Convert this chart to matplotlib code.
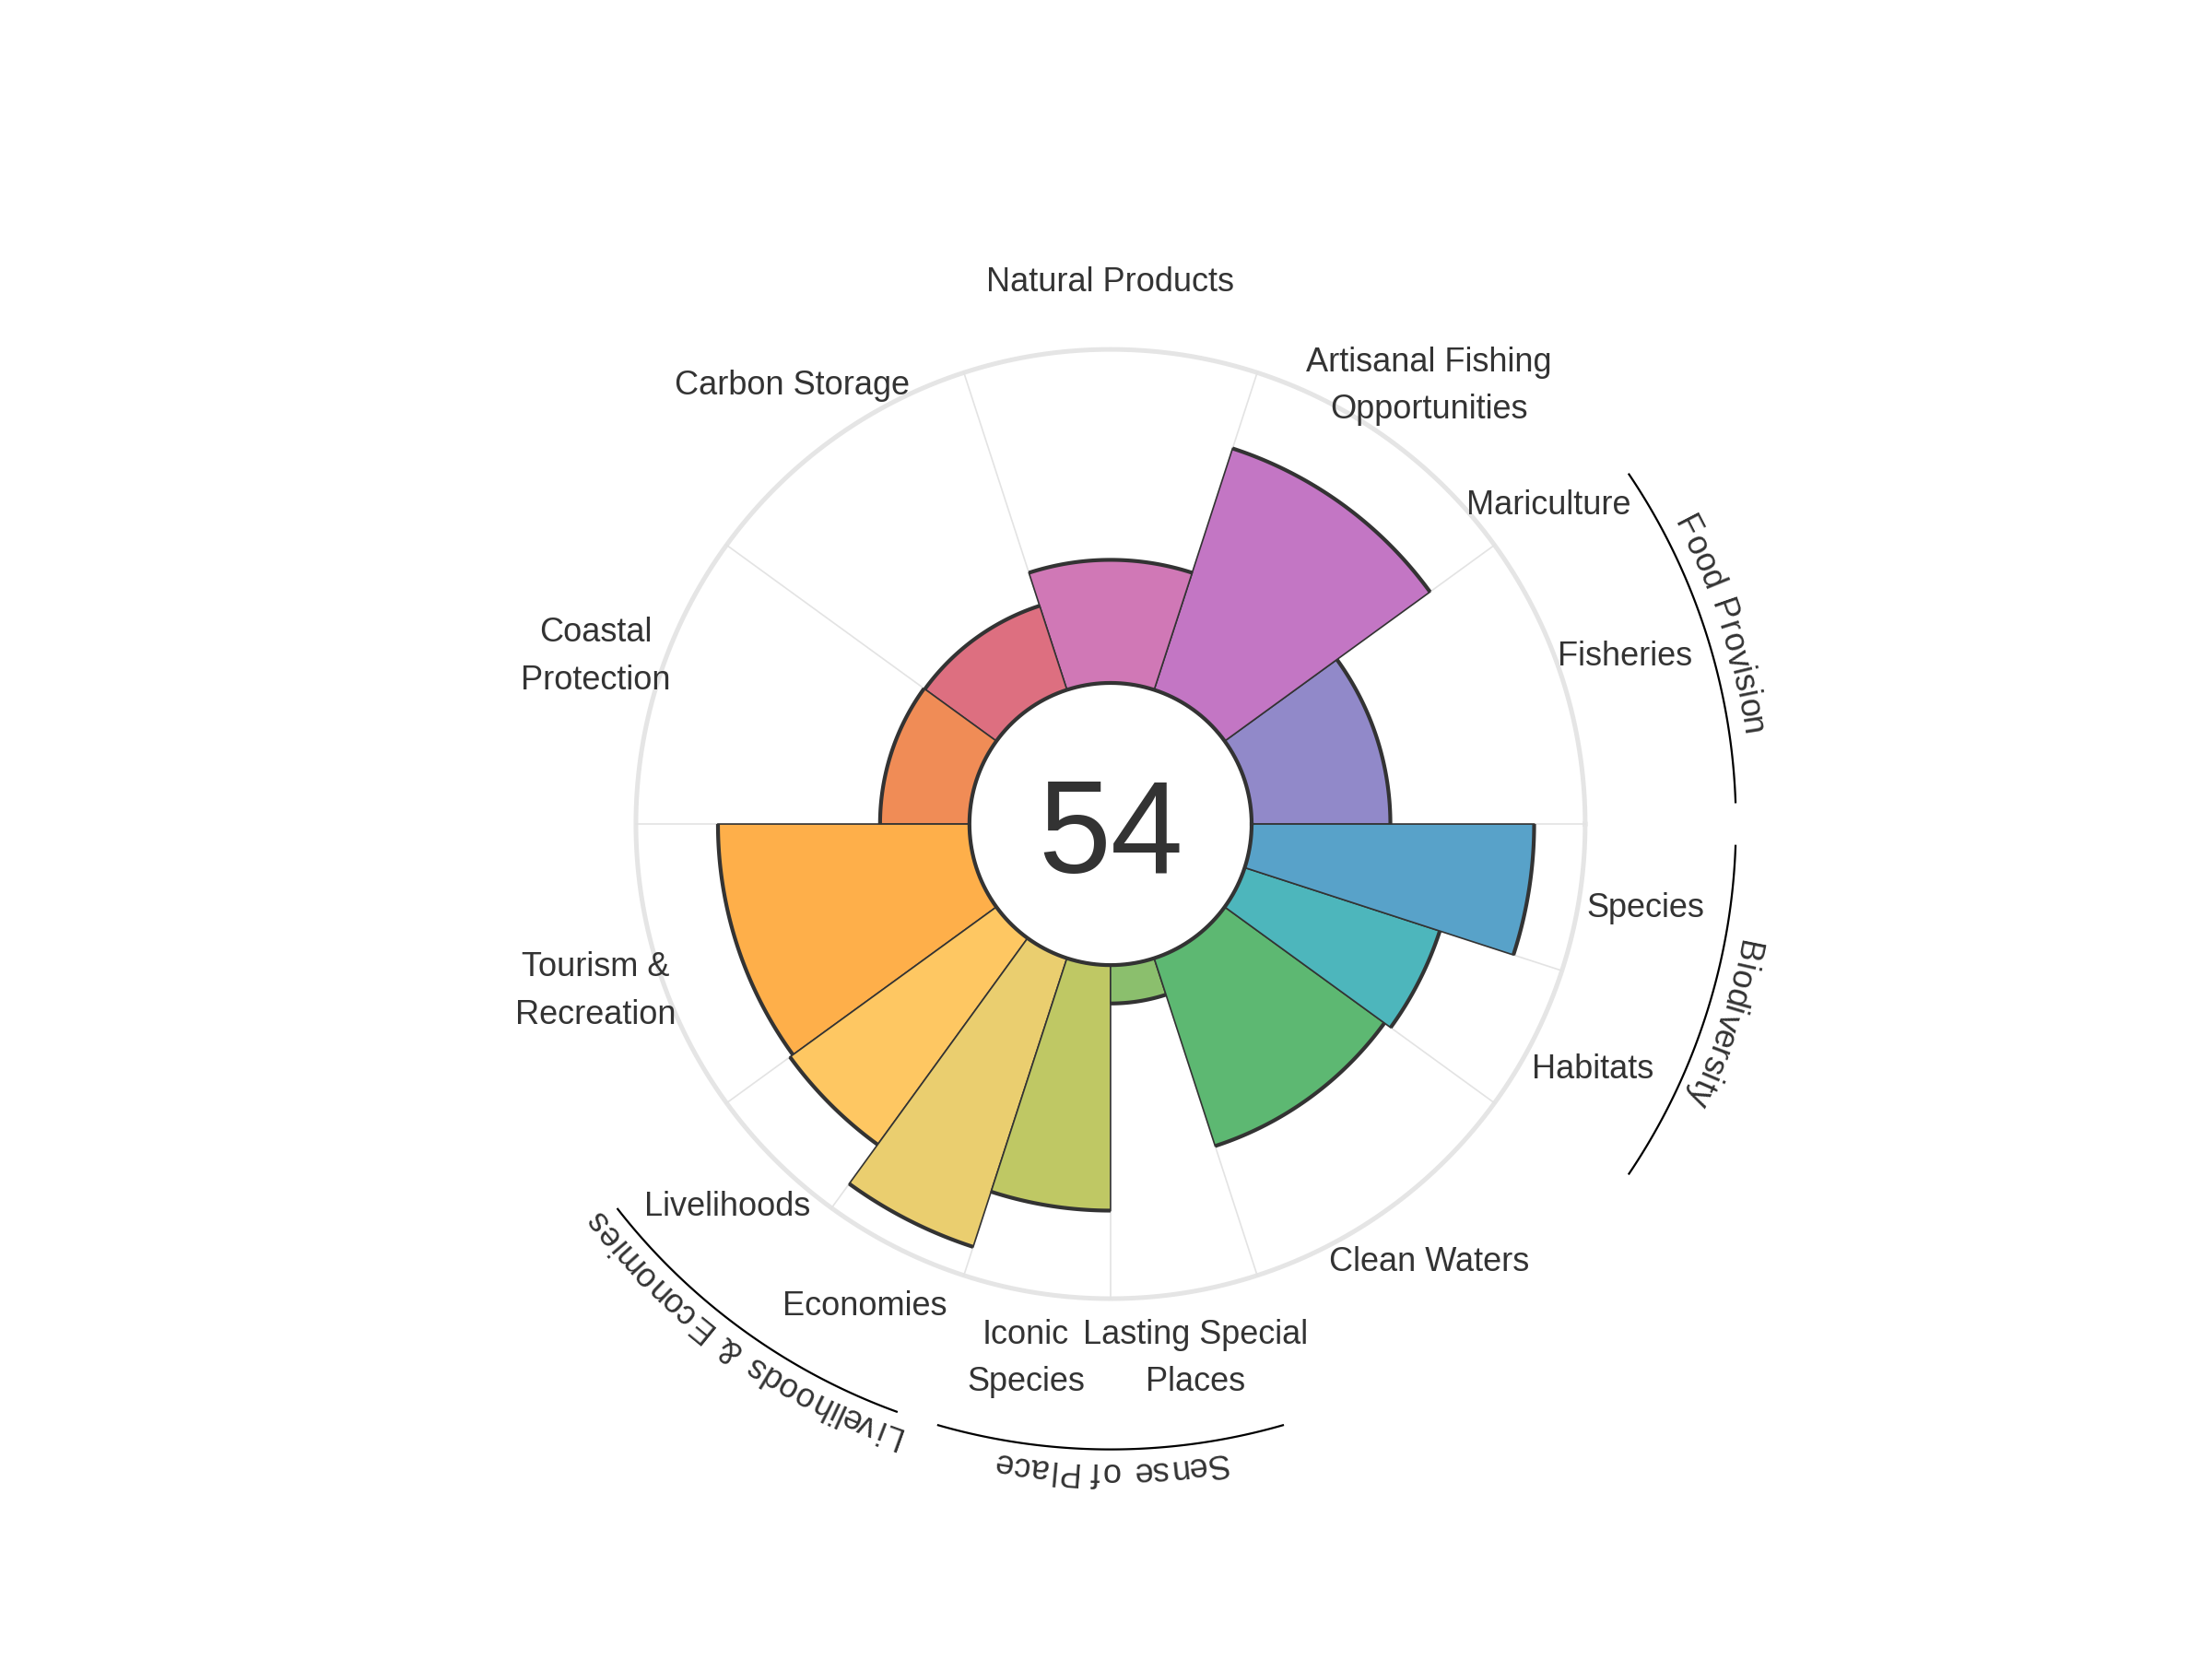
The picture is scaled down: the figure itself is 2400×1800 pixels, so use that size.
import numpy as np
import matplotlib
matplotlib.use("Agg")
import matplotlib.pyplot as plt
from matplotlib.font_manager import FontProperties

# ---------------- data ----------------
goals = ["Fisheries", "Mariculture", "Artisanal Fishing\nOpportunities",
         "Natural Products", "Carbon Storage", "Coastal\nProtection",
         "Tourism &\nRecreation", "Livelihoods", "Economies",
         "Iconic\nSpecies", "Lasting Special\nPlaces", "Clean Waters",
         "Habitats", "Species"]
scores = [41.6, 0.0, 76.1, 36.9, 26.5, 26.8, 75.4, 76.5, 91.0, 73.6,
          11.5, 59.2, 61.5, 84.7]
weights = [1, 0, 1, 1, 1, 1, 1, 0.5, 0.5, 0.5, 0.5, 1, 0.5, 0.5]
colors = ["#9189C9", "#A77DC8", "#C376C4", "#D078B6", "#DD6F80", "#F08C56",
          "#FEAF4A", "#FEC762", "#EACE6F", "#BFC864", "#8BBF6D", "#5DB872",
          "#4DB6BC", "#58A2C9"]
goal_groups = ["Food Provision", "Food Provision", None, None, None, None,
               None, "Livelihoods & Economies", "Livelihoods & Economies",
               "Sense of Place", "Sense of Place", None,
               "Biodiversity", "Biodiversity"]
group_names = ["Food Provision", "Biodiversity", "Sense of Place",
               "Livelihoods & Economies"]
overall = 54

# ---------------- style / geometry ----------------
FAM = ["Liberation Sans", "DejaVu Sans"]
TXT = "#333333"
HOLE = 42.3          # radius of the central hole (score units)
RMAX = 210
LABEL_R = HOLE + 120
GROUP_ARC_R = 187.5
GROUP_TXT_R = 191.6
FS = 13
DPI = 200

plt.rcParams["font.family"] = FAM
fig = plt.figure(figsize=(12, 9), dpi=DPI)
fig.patch.set_facecolor("white")
ax_w, ax_h = 0.6333, 0.8444
ax = fig.add_axes([0.1854, 0.0811, ax_w, ax_h], projection="polar")
ax.set_ylim(0, RMAX)
ax.axis("off")
px_per_unit = ax_w * 12 * DPI / 2 / RMAX

rad = np.deg2rad
w_arr = np.array(weights, dtype=float)
deg_per_w = 360.0 / w_arr.sum()
starts = np.concatenate([[0], np.cumsum(w_arr)[:-1]]) * deg_per_w
widths = w_arr * deg_per_w
mids = starts + widths / 2

# outer reference circle
th_full = np.linspace(0, 2 * np.pi, 721)
ax.plot(th_full, np.full_like(th_full, HOLE + 100), color="#E5E5E5",
        lw=1.8, zorder=0, clip_on=False)
# radial grid lines at petal boundaries
bounds = np.unique(np.round(np.concatenate([starts, starts + widths]) % 360, 6))
for b in bounds:
    ax.plot([rad(b), rad(b)], [HOLE, HOLE + 100], color="#E3E3E3", lw=0.6,
            zorder=0, clip_on=False)

# petals
for i in range(len(goals)):
    if widths[i] <= 0:
        continue
    ax.bar(rad(starts[i]), scores[i], width=rad(widths[i]), bottom=HOLE,
           align="edge", color=colors[i], edgecolor=TXT, linewidth=0.6,
           zorder=2)
    th = np.linspace(rad(starts[i]), rad(starts[i] + widths[i]), 80)
    ax.plot(th, np.full_like(th, HOLE + scores[i]), color=TXT, lw=1.5,
            zorder=3, solid_capstyle="butt", clip_on=False)

# hole outline
ax.plot(th_full, np.full_like(th_full, HOLE), color=TXT, lw=1.5, zorder=4)
# overall score, baseline placed slightly below the centre
ax.text(rad(270), 14.6, str(overall), ha="center", va="baseline",
        fontsize=51, color=TXT, zorder=5)

# goal labels
for i, g in enumerate(goals):
    ax.text(rad(mids[i]), LABEL_R, g, ha="center", va="center", fontsize=FS,
            color=TXT, linespacing=1.6, multialignment="center",
            clip_on=False)

# curved group labels
renderer = fig.canvas.get_renderer()
prop = FontProperties(family="Liberation Sans", size=FS)


def text_w(s):
    return renderer.get_text_width_height_descent(s, prop, ismath=False)[0]


base_w = text_w("nn")


def advance(ch):
    a = text_w("n" + ch + "n") - base_w
    if ch == " ":
        a *= 1.45
    return a


def curved_text(text, center_deg, r):
    advs = [advance(c) for c in text]
    total = sum(advs)
    rpx = r * px_per_unit
    pos = 0.0
    for c, a in zip(text, advs):
        cpos = pos + a / 2 - total / 2
        pos += a
        if c == " ":
            continue
        ang = center_deg - np.rad2deg(cpos / rpx)
        ax.text(rad(ang), r, c, rotation=ang - 90, rotation_mode="anchor",
                ha="center", va="baseline", fontproperties=prop, color=TXT,
                clip_on=False)


for gname in group_names:
    idx = [i for i, gg in enumerate(goal_groups) if gg == gname]
    g0 = min(starts[i] for i in idx)
    g1 = max(starts[i] + widths[i] for i in idx)
    th = np.linspace(rad(g0 + 2), rad(g1 - 2), 100)
    ax.plot(th, np.full_like(th, GROUP_ARC_R), color="black", lw=0.8,
            clip_on=False)
    curved_text(gname, (g0 + g1) / 2, GROUP_TXT_R)

fig.savefig("out.png", dpi=DPI, facecolor="white")
